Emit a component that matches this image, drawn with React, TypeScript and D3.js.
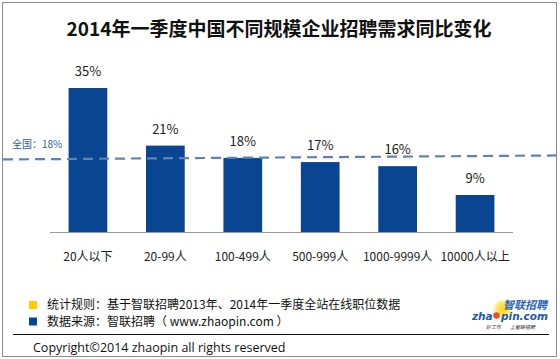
import { useEffect, useRef } from 'react';
import * as d3 from 'd3';

const categories = ['20人以下', '20-99人', '100-499人', '500-999人', '1000-9999人', '10000人以上'];
const values = [35, 21, 18, 17, 16, 9];
const nationalValue = 18;
const title = '2014年一季度中国不同规模企业招聘需求同比变化';
const notes = [
  { color: '#ffcc00', text: '统计规则：基于智联招聘2013年、2014年一季度全站在线职位数据' },
  { color: '#0a4592', text: '数据来源：智联招聘（ www.zhaopin.com ）' },
];

const FONT = '"Noto Sans CJK SC", "Noto Sans", sans-serif';

export default function App() {
  const svgRef = useRef<SVGSVGElement>(null);

  useEffect(() => {
    if (!svgRef.current) return;
    const svg = d3.select(svgRef.current);
    svg.selectAll('*').remove();

    const width = 560;
    const height = 359;
    svg.attr('width', width).attr('height', height);

    // outer frame
    svg.append('rect')
      .attr('x', 2.5).attr('y', 2.5)
      .attr('width', 554).attr('height', 354)
      .attr('fill', '#fff')
      .attr('stroke', '#8c8c8c');

    // title
    svg.append('text')
      .attr('x', 279).attr('y', 36)
      .attr('text-anchor', 'middle')
      .attr('font-family', FONT)
      .attr('font-size', '19px')
      .attr('font-weight', 'bold')
      .attr('fill', '#111')
      .text(title);

    const x = d3.scaleBand<string>()
      .domain(categories)
      .range([50, 513])
      .paddingInner(0.5)
      .paddingOuter(0.24);

    const y = d3.scaleLinear().domain([0, 35]).range([232, 88]);

    // bars
    svg.append('g')
      .selectAll('rect')
      .data(values)
      .join('rect')
      .attr('x', (_, i) => x(categories[i])!)
      .attr('y', (d) => y(d))
      .attr('width', x.bandwidth())
      .attr('height', (d) => y(0) - y(d))
      .attr('fill', '#0a4592');

    // value labels
    svg.append('g')
      .selectAll('text')
      .data(values)
      .join('text')
      .attr('x', (_, i) => x(categories[i])! + x.bandwidth() / 2)
      .attr('y', (d) => y(d) - 12)
      .attr('text-anchor', 'middle')
      .attr('font-family', FONT)
      .attr('font-size', '13px')
      .attr('fill', '#222')
      .text((d) => `${d}%`);

    // baseline
    svg.append('line')
      .attr('x1', 50).attr('x2', 513)
      .attr('y1', y(0) + 0.5).attr('y2', y(0) + 0.5)
      .attr('stroke', '#999')
      .attr('stroke-width', 1);

    // category labels
    const xAxis = svg.append('g')
      .attr('transform', `translate(0, ${y(0)})`)
      .call(d3.axisBottom(x).tickSize(0).tickPadding(0));
    xAxis.select('.domain').remove();
    xAxis.selectAll('text')
      .attr('dy', 0)
      .attr('y', 29)
      .attr('font-family', FONT)
      .attr('font-size', '12px')
      .attr('fill', '#222');

    // national average dashed line
    svg.append('line')
      .attr('x1', 3).attr('x2', 560)
      .attr('y1', y(nationalValue) + 1.5).attr('y2', y(nationalValue) - 2.5)
      .attr('stroke', '#6083b3')
      .attr('stroke-width', 2.2)
      .attr('stroke-dasharray', '10,6');

    svg.append('text')
      .attr('x', 12).attr('y', y(nationalValue) - 10)
      .attr('font-family', FONT)
      .attr('font-size', '10px')
      .attr('fill', '#2f5d9b')
      .text(`全国：${nationalValue}%`);

    // notes
    notes.forEach((n, i) => {
      const cy = 305 + i * 16.5;
      svg.append('rect')
        .attr('x', 29).attr('y', cy - 4)
        .attr('width', 8).attr('height', 8)
        .attr('fill', n.color);
      svg.append('text')
        .attr('x', 47).attr('y', cy + 4)
        .attr('font-family', FONT)
        .attr('font-size', '12px')
        .attr('fill', '#111')
        .text(n.text);
    });

    svg.append('line')
      .attr('x1', 13).attr('x2', 549)
      .attr('y1', 334.5).attr('y2', 334.5)
      .attr('stroke', '#111')
      .attr('stroke-width', 1);

    svg.append('text')
      .attr('x', 33).attr('y', 351.5)
      .attr('font-family', '"Open Sans", "Noto Sans", sans-serif')
      .attr('font-size', '12.5px')
      .attr('fill', '#111')
      .text('Copyright©2014 zhaopin all rights reserved');

    // logo
    const defs = svg.append('defs');
    const grad = defs.append('radialGradient').attr('id', 'glow');
    grad.append('stop').attr('offset', '0%').attr('stop-color', '#ffd400').attr('stop-opacity', 1);
    grad.append('stop').attr('offset', '60%').attr('stop-color', '#ffe14a').attr('stop-opacity', 0.8);
    grad.append('stop').attr('offset', '100%').attr('stop-color', '#fff3a0').attr('stop-opacity', 0);
    const logo = svg.append('g');
    logo.append('circle').attr('cx', 503).attr('cy', 309).attr('r', 11).attr('fill', 'url(#glow)');
    logo.append('text')
      .attr('x', 547).attr('y', 308.5)
      .attr('text-anchor', 'end')
      .attr('font-family', FONT)
      .attr('font-size', '11px')
      .attr('font-weight', 'bold')
      .attr('font-style', 'italic')
      .attr('fill', '#2a64b8')
      .text('智联招聘');
    logo.append('text')
      .attr('x', 472).attr('y', 320)
      .attr('font-family', '"DejaVu Sans", sans-serif')
      .attr('font-size', '10.5px')
      .attr('font-weight', 'bold')
      .attr('font-style', 'italic')
      .attr('fill', '#1c57ad')
      .text('zha');
    logo.append('circle').attr('cx', 496.5).attr('cy', 315.5).attr('r', 3.2).attr('fill', '#e8502a');
    logo.append('text')
      .attr('x', 548).attr('y', 320)
      .attr('text-anchor', 'end')
      .attr('font-family', '"DejaVu Sans", sans-serif')
      .attr('font-size', '10.5px')
      .attr('font-weight', 'bold')
      .attr('font-style', 'italic')
      .attr('fill', '#1c57ad')
      .text('pin.com');
    logo.append('text')
      .attr('x', 486).attr('y', 328.5)
      .attr('font-family', FONT)
      .attr('font-size', '5px')
      .attr('font-style', 'italic')
      .attr('fill', '#333')
      .text('好工作');
    logo.append('text')
      .attr('x', 510).attr('y', 328.5)
      .attr('font-family', FONT)
      .attr('font-size', '5px')
      .attr('font-style', 'italic')
      .attr('fill', '#333')
      .text('上智联招聘');
  }, []);

  return <svg ref={svgRef} style={{ position: 'absolute', left: 0, top: 0 }} />;
}
